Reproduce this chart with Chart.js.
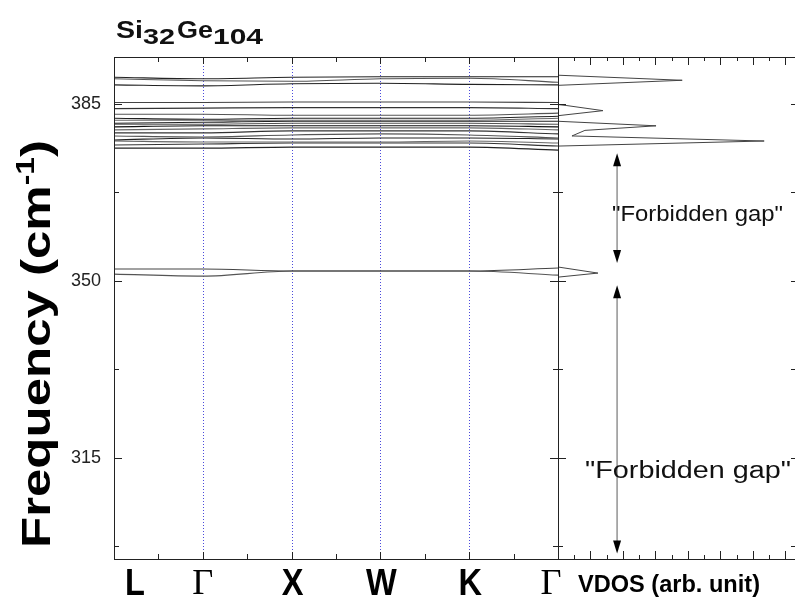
<!DOCTYPE html>
<html>
<head>
<meta charset="utf-8">
<script src="https://cdn.jsdelivr.net/npm/chart.js@4.4.1/dist/chart.umd.min.js"></script>
<style>
  body { margin: 0; background: #fff; }
  #wrap { position: relative; width: 795px; height: 598px; }
  canvas { position: absolute; left: 0; top: 0; }
</style>
</head>
<body>
<div id="wrap">
  <canvas id="bands" width="795" height="598"></canvas>
  <canvas id="vdos" width="795" height="598"></canvas>
</div>
<script>
// k-path (high symmetry points)
const kLabels = ["L", "Γ", "X", "W", "K", "Γ"];
const kPos = [0, 1, 2, 3, 4, 5];

// frequency axis ticks (cm-1)
const yTicks = [297.5, 315, 332.5, 350, 367.5, 385];
const yMajor = [315, 350, 385];

// phonon branches, values at L, Γ, X, W, K, Γ
const top1 = [390.2, 389.9, 390.2, 390.3, 390.3, 390.3];
const top2 = [389.9, 389.5, 389.4, 389.9, 390.0, 389.2];
const top3 = [388.7, 388.5, 388.9, 389.0, 388.8, 388.7];
const mid1 = [385.2, 385.2, 385.3, 385.3, 385.3, 385.2];
const mid2 = [384.0, 384.1, 384.2, 384.2, 384.2, 384.0];
const opt1 = [382.9, 382.9, 382.7, 382.7, 382.7, 383.1];
const opt2 = [382.1, 381.9, 382.1, 382.1, 382.1, 382.5];
const opt3 = [381.7, 381.7, 381.7, 381.7, 381.7, 382.1];
const opt4 = [381.1, 381.3, 381.5, 381.5, 381.5, 381.5];
const opt5 = [380.9, 380.9, 381.1, 381.1, 381.1, 380.9];
const opt6 = [380.4, 380.6, 380.6, 380.6, 380.6, 380.4];
const opt7 = [379.8, 380.0, 380.2, 380.2, 380.2, 379.8];
const opt8 = [379.2, 379.2, 379.6, 379.6, 379.6, 379.0];
const opt9 = [378.6, 378.4, 378.8, 379.0, 378.8, 378.2];
const opt10 = [377.8, 378.2, 378.0, 378.2, 378.2, 378.0];
const opt11 = [377.6, 377.4, 377.4, 377.4, 377.6, 377.2];
const opt12 = [376.8, 377.0, 377.2, 377.2, 377.2, 376.6];
const opt13 = [376.2, 376.2, 376.4, 376.4, 376.4, 375.8];
const low1 = [352.3, 352.3, 351.9, 351.9, 351.9, 352.5];
const low2 = [351.3, 350.9, 351.9, 351.9, 351.9, 351.1];

const branches = [top1, top2, top3, mid1, mid2, opt1, opt2, opt3, opt4, opt5,
  opt6, opt7, opt8, opt9, opt10, opt11, opt12, opt13, low1, low2];

// vibrational density of states (arb. unit) vs frequency
const vdosFreq = [295, 350.7, 351.5, 352.7, 376.6, 377.6, 378.6, 379.7, 380.6,
  381.5, 382.6, 383.6, 384.6, 384.8, 388.6, 389.6, 390.6, 394.2];
const vdosDens = [0, 0, 2.46, 0, 0, 12.7, 0.86, 1.66, 6.04,
  0, 0, 2.77, 0.55, 0, 0, 7.65, 0, 0];

// "forbidden gap" markers: [top, bottom] in cm-1
const gapUpper = [375.2, 353.5];
const gapLower = [349.1, 296.1];

const yMin = 295, yMax = 394.2;
const SANS = "'Liberation Sans', Arial, sans-serif";
const SERIF = "'Liberation Serif', 'Times New Roman', serif";

function fitText(ctx, str, x, y, font, width, align) {
  ctx.save();
  ctx.font = font;
  const w = ctx.measureText(str).width;
  const s = width ? width / w : 1;
  ctx.translate(x, y);
  ctx.scale(s, 1);
  ctx.textAlign = align || "left";
  ctx.textBaseline = "alphabetic";
  ctx.fillText(str, 0, 0);
  ctx.restore();
  return w * s;
}

function hline(ctx, x1, x2, y) {
  ctx.beginPath();
  ctx.moveTo(x1, Math.round(y) + 0.5);
  ctx.lineTo(x2, Math.round(y) + 0.5);
  ctx.stroke();
}
function vline(ctx, x, y1, y2) {
  ctx.beginPath();
  ctx.moveTo(Math.round(x) + 0.5, y1);
  ctx.lineTo(Math.round(x) + 0.5, y2);
  ctx.stroke();
}

const bandPlugin = {
  id: "bandDecor",
  beforeDatasetsDraw(chart) {
    const { ctx, chartArea: a, scales: { x } } = chart;
    ctx.save();
    ctx.strokeStyle = "#4b4bdc";
    ctx.lineWidth = 1;
    ctx.setLineDash([1, 2]);
    for (let i = 1; i < kPos.length - 1; i++) {
      vline(ctx, x.getPixelForValue(kPos[i]), a.top, a.bottom);
    }
    ctx.restore();
  },
  afterDraw(chart) {
    const { ctx, chartArea: a, scales: { x, y } } = chart;
    ctx.save();
    ctx.strokeStyle = "#222";
    ctx.lineWidth = 1;
    ctx.strokeRect(Math.round(a.left) + 0.5, Math.round(a.top) + 0.5,
      Math.round(a.right - a.left), Math.round(a.bottom - a.top));
    // y ticks, inward on both sides
    yTicks.forEach(v => {
      const py = y.getPixelForValue(v);
      const len = yMajor.includes(v) ? 8 : 5;
      hline(ctx, a.left, a.left + len, py);
      hline(ctx, a.right - len, a.right, py);
    });
    // x ticks at half steps
    for (let v = 0.5; v < 5; v += 0.5) {
      const px = x.getPixelForValue(v);
      const len = Number.isInteger(v) ? 7 : 5;
      vline(ctx, px, a.bottom - len, a.bottom);
      vline(ctx, px, a.top, a.top + len);
    }
    // k-point labels
    ctx.fillStyle = "#000";
    const shift = [15, 0, 1, 1, 1, -7];
    kLabels.forEach((lab, i) => {
      const px = x.getPixelForValue(kPos[i]) + shift[i];
      if (lab === "Γ") {
        fitText(ctx, lab, px, 594, "36px " + SERIF, 21, "center");
      } else {
        ctx.save();
        ctx.font = "bold 37px " + SANS;
        ctx.translate(px, 595);
        ctx.scale(0.88, 1);
        ctx.textAlign = i === 0 ? "left" : "center";
        ctx.fillText(lab, i === 0 ? -4 / 0.88 : 0, 0);
        ctx.restore();
      }
    });
    // title Si32Ge104
    ctx.fillStyle = "#111";
    let tx = 116;
    tx += fitText(ctx, "Si", tx, 38, "bold 24px " + SANS, 27);
    tx += fitText(ctx, "32", tx, 44, "bold 22px " + SANS, 32);
    tx += 2;
    tx += fitText(ctx, "Ge", tx, 38, "bold 24px " + SANS, 36);
    fitText(ctx, "104", tx, 44, "bold 22px " + SANS, 50);
    // y title
    ctx.save();
    ctx.translate(50, 548);
    ctx.rotate(-Math.PI / 2);
    ctx.font = "bold 40px " + SANS;
    const p1 = "Frequency (cm";
    const w1 = ctx.measureText(p1).width;
    ctx.font = "bold 25px " + SANS;
    const w2 = ctx.measureText("-1").width;
    ctx.font = "bold 40px " + SANS;
    const w3 = ctx.measureText(")").width;
    const s = 408 / (w1 + w2 + w3);
    ctx.scale(s, 1);
    ctx.fillStyle = "#000";
    ctx.fillText(p1, 0, 0);
    ctx.font = "bold 25px " + SANS;
    ctx.fillText("-1", w1, -16);
    ctx.font = "bold 40px " + SANS;
    ctx.fillText(")", w1 + w2, 0);
    ctx.restore();
    ctx.restore();
  }
};

function arrow(ctx, px, y1, y2) {
  ctx.save();
  ctx.strokeStyle = "#999";
  ctx.lineWidth = 1.6;
  ctx.beginPath();
  ctx.moveTo(px, y1 + 10);
  ctx.lineTo(px, y2 - 10);
  ctx.stroke();
  ctx.fillStyle = "#000";
  ctx.beginPath();
  ctx.moveTo(px, y1);
  ctx.lineTo(px - 4, y1 + 13);
  ctx.lineTo(px + 4, y1 + 13);
  ctx.closePath();
  ctx.fill();
  ctx.beginPath();
  ctx.moveTo(px, y2);
  ctx.lineTo(px - 4, y2 - 13);
  ctx.lineTo(px + 4, y2 - 13);
  ctx.closePath();
  ctx.fill();
  ctx.restore();
}

const vdosPlugin = {
  id: "vdosDecor",
  afterDraw(chart) {
    const { ctx, chartArea: a, scales: { x, y } } = chart;
    ctx.save();
    ctx.strokeStyle = "#222";
    ctx.lineWidth = 1;
    hline(ctx, a.left, a.right + 2, a.top);
    hline(ctx, a.left, a.right + 2, a.bottom);
    vline(ctx, a.left, a.top, a.bottom);
    yTicks.forEach(v => {
      const py = y.getPixelForValue(v);
      const len = yMajor.includes(v) ? 8 : 5;
      hline(ctx, a.left, a.left + len, py);
      hline(ctx, a.right - 4, a.right, py);
    });
    for (let v = 1; v <= 14; v++) {
      const px = x.getPixelForValue(v);
      const len = v % 2 === 0 ? 8 : 4;
      vline(ctx, px, a.bottom - len, a.bottom);
      vline(ctx, px, a.top, a.top + len);
    }
    const ax = x.getPixelForValue(3.64);
    arrow(ctx, ax, y.getPixelForValue(gapUpper[0]), y.getPixelForValue(gapUpper[1]));
    arrow(ctx, ax, y.getPixelForValue(gapLower[0]), y.getPixelForValue(gapLower[1]));
    ctx.fillStyle = "#111";
    fitText(ctx, "\"Forbidden gap\"", 612, 221, "22px " + SANS, 171);
    fitText(ctx, "\"Forbidden gap\"", 585, 478, "23px " + SANS, 206);
    ctx.fillStyle = "#000";
    fitText(ctx, "VDOS (arb. unit)", 578, 592, "bold 23px " + SANS, 182);
    ctx.restore();
  }
};

const bandColors = ["#222", "#555", "#222", "#444", "#333", "#555", "#222", "#666",
  "#222", "#555", "#111", "#666", "#333", "#555", "#222", "#666", "#333", "#222", "#444", "#555"];

new Chart(document.getElementById("bands"), {
  type: "line",
  data: {
    datasets: branches.map((b, i) => ({
      data: b.map((v, j) => ({ x: kPos[j], y: v })),
      borderColor: bandColors[i % bandColors.length],
      borderWidth: 1.1,
      pointRadius: 0,
      fill: false,
      cubicInterpolationMode: "monotone"
    }))
  },
  options: {
    responsive: false,
    devicePixelRatio: 1,
    animation: false,
    layout: { padding: { left: 0, top: 57, right: 237, bottom: 39 } },
    plugins: { legend: { display: false }, tooltip: { enabled: false } },
    scales: {
      x: { type: "linear", min: 0, max: 5, display: false },
      y: {
        type: "linear", min: yMin, max: yMax,
        grid: { display: false },
        border: { display: false },
        afterBuildTicks: s => { s.ticks = yMajor.map(v => ({ value: v })); },
        afterFit: s => { s.width = 114; },
        ticks: { padding: 5, color: "#222", font: { family: SANS, size: 18 } }
      }
    }
  },
  plugins: [bandPlugin]
});

new Chart(document.getElementById("vdos"), {
  type: "scatter",
  data: {
    datasets: [{
      data: vdosDens.map((d, i) => ({ x: d, y: vdosFreq[i] })),
      showLine: true,
      borderColor: "#444",
      borderWidth: 1,
      pointRadius: 0,
      tension: 0
    }]
  },
  options: {
    responsive: false,
    devicePixelRatio: 1,
    animation: false,
    layout: { padding: { left: 558, top: 57, right: 0, bottom: 39 } },
    plugins: { legend: { display: false }, tooltip: { enabled: false } },
    scales: {
      x: { type: "linear", min: 0, max: 14.6, display: false },
      y: { type: "linear", min: yMin, max: yMax, display: false }
    }
  },
  plugins: [vdosPlugin]
});
</script>
</body>
</html>
